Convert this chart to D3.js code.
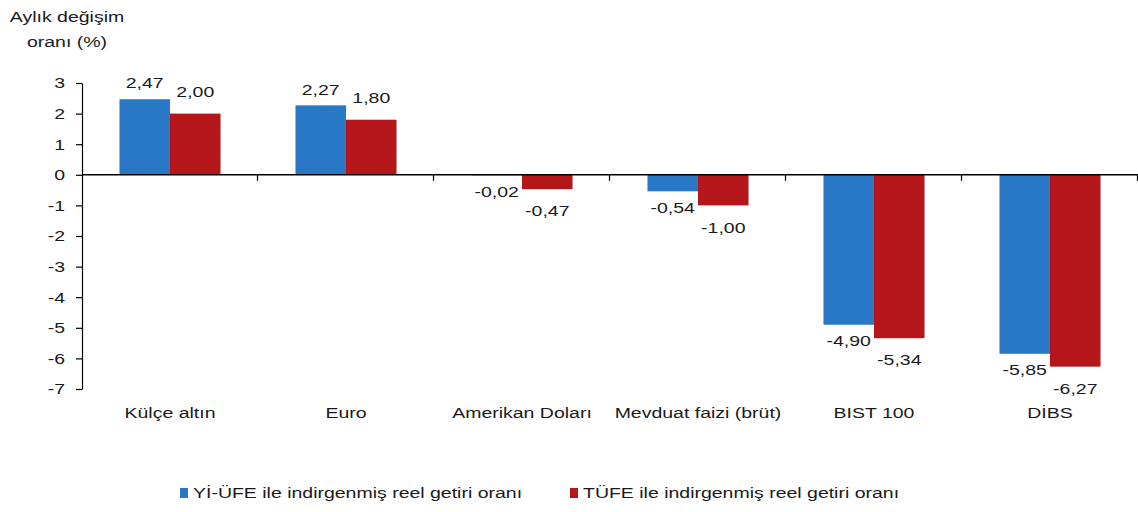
<!DOCTYPE html>
<html>
<head>
<meta charset="utf-8">
<script src="https://cdn.jsdelivr.net/npm/d3@7"></script>
<style>
  body { margin: 0; background: #fff; }
  svg text { font-family: "Liberation Sans", Arial, sans-serif; fill: #1a1a1a; }
</style>
</head>
<body>
<div id="chart"></div>
<script>
// kategoriler ve seriler
var categories = ["Külçe altın", "Euro", "Amerikan Doları", "Mevduat faizi (brüt)", "BIST 100", "DİBS"];
var seriesNames = ["Yİ-ÜFE ile indirgenmiş reel getiri oranı", "TÜFE ile indirgenmiş reel getiri oranı"];
var yiufeValues = [2.47, 2.27, -0.02, -0.54, -4.90, -5.85];
var tufeValues = [2.00, 1.80, -0.47, -1.00, -5.34, -6.27];
var yTicks = [3, 2, 1, 0, -1, -2, -3, -4, -5, -6, -7];

var width = 1138, height = 512;
var colors = ["#2878c6", "#b4161a"];
var labelGap = [16, 22];
var sx = 1.3; // yazılar yatayda geniş

var svg = d3.select("#chart").append("svg")
    .attr("width", width)
    .attr("height", height);

// x,y'yi transform'a taşıyıp yatay genişletir
function stretch(sel) {
    sel.each(function() {
        var t = d3.select(this);
        var x = +t.attr("x") || 0, yy = +t.attr("y") || 0;
        t.attr("x", 0).attr("y", 0)
         .attr("transform", "translate(" + x + "," + yy + ") scale(" + sx + ",1)");
    });
}

var x0 = d3.scaleBand()
    .domain(categories)
    .range([82, 1138])
    .paddingInner(0.426)
    .paddingOuter(0.213);

var x1 = d3.scaleBand()
    .domain([0, 1])
    .range([0, x0.bandwidth()]);

var y = d3.scaleLinear()
    .domain([-7, 3])
    .range([389, 83]);

var fmt = function(v) { return v.toFixed(2).replace(".", ","); };

// y ekseni
var yAxis = svg.append("g")
    .attr("transform", "translate(82,0)")
    .call(d3.axisLeft(y).tickValues(yTicks).tickSize(6).tickSizeOuter(0)
        .tickFormat(function(d) { return String(d); }));
yAxis.selectAll("path, line").attr("stroke", "#000").attr("stroke-width", 1.2);
yAxis.selectAll("text")
    .attr("x", -17)
    .style("font-size", "15px")
    .style("font-family", "Liberation Sans, Arial, sans-serif")
    .attr("fill", "#1a1a1a")
    .call(stretch);

// bar grupları
var rows = categories.map(function(c, i) { return { cat: c, vals: [yiufeValues[i], tufeValues[i]] }; });

var group = svg.selectAll("g.grp")
    .data(rows)
    .enter().append("g")
    .attr("class", "grp")
    .attr("transform", function(d) { return "translate(" + x0(d.cat) + ",0)"; });

group.selectAll("rect")
    .data(function(d) { return d.vals.map(function(v, k) { return { v: v, k: k }; }); })
    .enter().append("rect")
    .attr("x", function(d) { return x1(d.k); })
    .attr("width", x1.bandwidth())
    .attr("y", function(d) { return y(Math.max(0, d.v)); })
    .attr("height", function(d) { return Math.abs(y(d.v) - y(0)); })
    .attr("fill", function(d) { return colors[d.k]; });

group.selectAll("text.val")
    .data(function(d) { return d.vals.map(function(v, k) { return { v: v, k: k }; }); })
    .enter().append("text")
    .attr("class", "val")
    .attr("x", function(d) { return x1(d.k) + x1.bandwidth() / 2; })
    .attr("y", function(d) { return y(d.v) + (d.v >= 0 ? -labelGap[d.k] : labelGap[d.k]); })
    .attr("dy", "0.35em")
    .attr("text-anchor", "middle")
    .style("font-size", "15px")
    .text(function(d) { return fmt(d.v); })
    .call(stretch);

// x ekseni (sıfır çizgisi)
svg.append("line")
    .attr("x1", 82).attr("x2", 1138)
    .attr("y1", y(0)).attr("y2", y(0))
    .attr("stroke", "#000").attr("stroke-width", 1.5);

svg.selectAll("line.xtick")
    .data(d3.range(1, categories.length + 1))
    .enter().append("line")
    .attr("class", "xtick")
    .attr("x1", function(i) { return 82 + i * x0.step() - 0.5; })
    .attr("x2", function(i) { return 82 + i * x0.step() - 0.5; })
    .attr("y1", y(0)).attr("y2", y(0) + 6)
    .attr("stroke", "#000").attr("stroke-width", 1.2);

svg.selectAll("text.cat")
    .data(categories)
    .enter().append("text")
    .attr("class", "cat")
    .attr("x", function(d) { return x0(d) + x0.bandwidth() / 2; })
    .attr("y", 413)
    .attr("dy", "0.35em")
    .attr("text-anchor", "middle")
    .style("font-size", "15px")
    .text(function(d) { return d; })
    .call(stretch);

// eksen başlığı
svg.selectAll("text.ttl")
    .data(["Aylık değişim", "oranı (%)"])
    .enter().append("text")
    .attr("class", "ttl")
    .attr("x", 67)
    .attr("y", function(d, i) { return 22 + i * 25; })
    .attr("text-anchor", "middle")
    .style("font-size", "15px")
    .text(function(d) { return d; })
    .call(stretch);

// lejant
var legendX = [180, 570];
var legend = svg.selectAll("g.leg")
    .data(seriesNames)
    .enter().append("g")
    .attr("class", "leg")
    .attr("transform", function(d, i) { return "translate(" + legendX[i] + ",493)"; });

legend.append("rect")
    .attr("x", 0).attr("y", -5)
    .attr("width", 8).attr("height", 10)
    .attr("fill", function(d, i) { return colors[i]; });

legend.append("text")
    .attr("x", 13)
    .attr("y", 0)
    .attr("dy", "0.35em")
    .style("font-size", "15px")
    .text(function(d) { return d; })
    .call(stretch);
</script>
</body>
</html>
